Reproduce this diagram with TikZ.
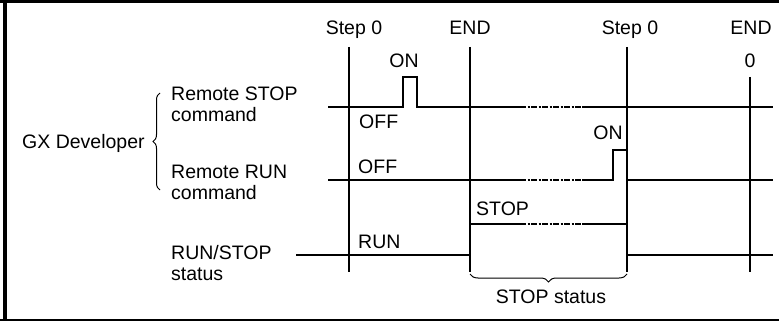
\documentclass[tikz,border=0pt]{standalone}
\usepackage{fontspec}
\setmainfont{Liberation Sans}
\usepackage{tikz}
\usetikzlibrary{decorations.pathreplacing, positioning, calc}

\begin{document}
\begin{tikzpicture}[x=1pt,y=-1pt,
	sig/.style={line width=2.2pt},
	gapline/.style={line width=1.4pt, dash pattern=on 6pt off 1.5pt on 2pt off 1.5pt},
	lbl/.style={font=\fontsize{19.5}{21}\selectfont, inner sep=0pt},
	bracelink/.style={line width=1pt, decorate, decoration={brace, amplitude=#1}}]
	\useasboundingbox (0,0) rectangle (779,321);
	\draw[line width=3.4pt] (0,1.7)--(779,1.7);
	\draw[line width=4.5pt] (5,0)--(5,321);
	\draw[line width=2pt] (0,320)--(779,320);
	\draw[sig] (349,47)--(349,272);
	\draw[sig] (470,47)--(470,272);
	\draw[sig] (627,47)--(627,272);
	\draw[sig] (750,77)--(750,272);
	\node[lbl,anchor=base] (stepa) at (354,35) {Step 0};
	\node[lbl,anchor=base] (enda) at (470,35) {END};
	\node[lbl,anchor=base] (stepb) at (630,35) {Step 0};
	\node[lbl,anchor=base] (endb) at (751,35) {END};
	\node[lbl,anchor=base] (zero) at (750,67) {0};
	\draw[sig] (328,107)--(403,107)--(403,77)--(417,77)--(417,107)--(520,107);
	\draw[gapline] (520,107)--(582,107);
	\draw[sig] (582,107)--(773,107);
	\draw[sig] (328,180)--(520,180);
	\draw[gapline] (520,180)--(582,180);
	\draw[sig] (582,180)--(613,180)--(613,150)--(627,150);
	\draw[sig] (627,180)--(773,180);
	\draw[sig] (296,255)--(470,255);
	\draw[sig] (470,224)--(520,224);
	\draw[gapline] (520,224)--(582,224);
	\draw[sig] (582,224)--(627,224);
	\draw[sig] (627,255)--(773,255);
	\node[lbl,anchor=base] (ona) at (404,67) {ON};
	\node[lbl,anchor=base west] (offa) at (359,128) {OFF};
	\node[lbl,anchor=base] (onb) at (608,139) {ON};
	\node[lbl,anchor=base west] (offb) at (358,173) {OFF};
	\node[lbl,anchor=base west] (stop) at (476,215) {STOP};
	\node[lbl,anchor=base west] (run) at (358,248) {RUN};
	\draw[bracelink=8pt] (627,274)--(470,274);
	\node[lbl,anchor=base] (stopst) at (551,303) {STOP status};
	\node[lbl,anchor=north west,align=left] (rstop) at (171,87) {Remote STOP\\command};
	\node[lbl,anchor=north west,align=left] (rrun) at (171,165) {Remote RUN\\command};
	\node[lbl,anchor=north west,align=left] (rstat) at (171,245) {RUN/STOP\\status};
	\draw[bracelink=7pt] (160,190)--(160,93);
	\node[lbl,anchor=base west] (gx) at (22,148) {GX Developer};
\end{tikzpicture}
\end{document}
